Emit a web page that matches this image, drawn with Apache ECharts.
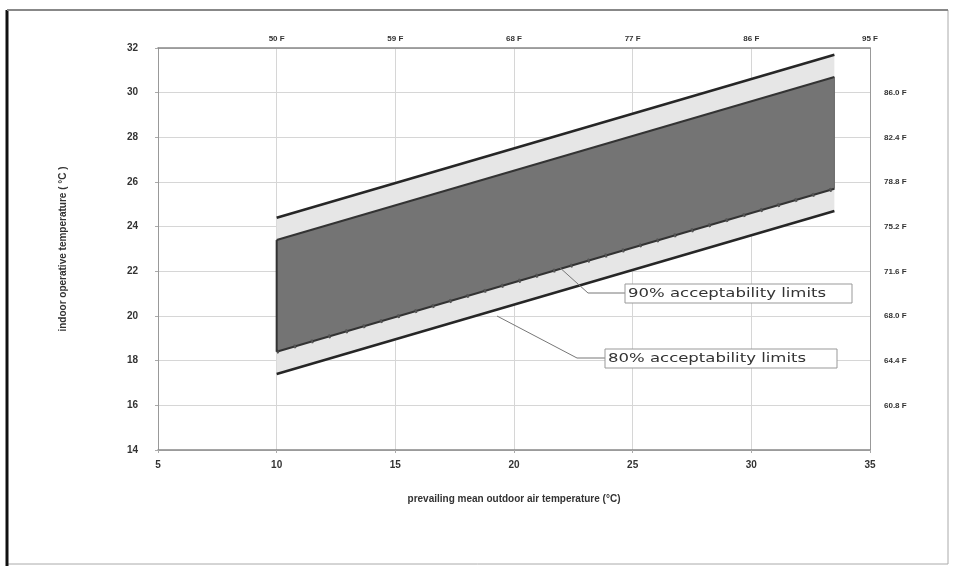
<!DOCTYPE html>
<html><head><meta charset="utf-8">
<script src="https://cdn.jsdelivr.net/npm/echarts@6/dist/echarts.min.js"></script>
<style>html,body{margin:0;padding:0;background:#fff}#c{width:953px;height:566px}</style>
</head><body><div id="c"></div>
<script>
// prevailing mean outdoor air temperature (°C) at the ends of the limit lines
const outdoorT = [10, 33.5];
// indoor operative temperature limits (°C)
const lower80 = [17.4, 24.7];
const lower90 = [18.4, 25.7];
const upper90 = [23.4, 30.7];
const upper80 = [24.4, 31.7];
// axis tick labels
const xTicks = [5, 10, 15, 20, 25, 30, 35];
const topLabels = ['', '50 F', '59 F', '68 F', '77 F', '86 F', '95 F'];
const yTicks = [14, 16, 18, 20, 22, 24, 26, 28, 30, 32];
const rightLabels = ['', '60.8 F', '64.4 F', '68.0 F', '71.6 F', '75.2 F', '78.8 F', '82.4 F', '86.0 F', ''];
const label90 = '90% acceptability limits';
const label80 = '80% acceptability limits';

const chart = echarts.init(document.getElementById('c'), null, {renderer: 'canvas'});
const FONT = 'Liberation Sans';
const tickLbl = {color: '#333', fontSize: 10, fontWeight: 'bold', fontFamily: FONT};

function band(lo, hi, color) {
  return {
    type: 'custom', coordinateSystem: 'cartesian2d', clip: true, silent: true,
    data: outdoorT.map((x, i) => [x, lo[i], hi[i]]),
    encode: {x: 0, y: [1, 2]},
    renderItem: function (params, api) {
      if (params.dataIndex !== 0) return null;
      const pts = [];
      outdoorT.forEach((x, i) => pts.push(api.coord([x, lo[i]])));
      for (let i = outdoorT.length - 1; i >= 0; i--) pts.push(api.coord([outdoorT[i], hi[i]]));
      return {type: 'polygon', shape: {points: pts}, style: {fill: color}};
    }
  };
}
function line(vals, color, width, type) {
  return {
    type: 'line', symbol: 'none', silent: true, z: 5,
    data: outdoorT.map((x, i) => [x, vals[i]]),
    lineStyle: {color: color, width: width, type: type || 'solid'}
  };
}
function edge(x, lo, hi, color, width) {
  return {
    type: 'line', symbol: 'none', silent: true, z: 5,
    data: [[x, lo], [x, hi]], lineStyle: {color: color, width: width}
  };
}

const option = {
  backgroundColor: '#fff',
  animation: false,
  grid: {left: 158, right: 83, top: 48, bottom: 116, show: false},
  xAxis: [{
    type: 'value', min: 5, max: 35, interval: 5, position: 'bottom',
    name: 'prevailing mean outdoor air temperature (°C)', nameLocation: 'middle', nameGap: 44,
    nameTextStyle: {color: '#333', fontSize: 10, fontWeight: 'bold', fontFamily: FONT},
    axisLine: {lineStyle: {color: '#888', width: 1.5}},
    axisTick: {show: true, length: 3, lineStyle: {color: '#aaa'}},
    axisLabel: Object.assign({margin: 10}, tickLbl),
    splitLine: {show: true, lineStyle: {color: '#d6d6d6', width: 1}}
  }, {
    type: 'value', min: 5, max: 35, interval: 5, position: 'top',
    axisLine: {onZero: false, lineStyle: {color: '#888', width: 1.5}},
    axisTick: {show: false},
    axisLabel: Object.assign({margin: 5,
      formatter: v => topLabels[xTicks.indexOf(v)] || ''}, tickLbl, {fontSize: 8}),
    splitLine: {show: false}
  }],
  yAxis: [{
    type: 'value', min: 14, max: 32, interval: 2, position: 'left',
    name: 'indoor operative temperature ( °C )', nameLocation: 'middle', nameGap: 90, nameRotate: 90,
    nameTextStyle: {color: '#333', fontSize: 10, fontWeight: 'bold', fontFamily: FONT},
    axisLine: {show: true, lineStyle: {color: '#999', width: 1}},
    axisTick: {show: true, length: 3, lineStyle: {color: '#aaa'}},
    axisLabel: Object.assign({margin: 20}, tickLbl),
    splitLine: {show: true, lineStyle: {color: '#d6d6d6', width: 1}}
  }, {
    type: 'value', min: 14, max: 32, interval: 2, position: 'right',
    axisLine: {show: true, onZero: false, lineStyle: {color: '#999', width: 1}},
    axisTick: {show: false},
    axisLabel: Object.assign({margin: 14, formatter: v => rightLabels[yTicks.indexOf(v)] || ''}, tickLbl, {fontSize: 8}),
    splitLine: {show: false}
  }],
  series: [
    band(lower80, upper80, '#e6e6e6'),
    band(lower90, upper90, '#747474'),
    line(upper80, '#262626', 2.5),
    line(lower80, '#262626', 2.5),
    line(upper90, '#333', 2),
    line(lower90, '#333', 2),
    line(lower90, '#555', 4, [2, 16]),
    edge(outdoorT[0], lower90[0], upper90[0], '#333', 2),
    edge(outdoorT[1], lower90[1], upper90[1], '#666', 1)
  ],
  graphic: [
    {type: 'rect', shape: {x: 7, y: 10, width: 941, height: 554}, style: {fill: 'none', stroke: '#aaa', lineWidth: 1}, z: 100},
    {type: 'line', shape: {x1: 7, y1: 10, x2: 7, y2: 566}, style: {stroke: '#111', lineWidth: 3}, z: 100},
    {type: 'line', shape: {x1: 7, y1: 10, x2: 948, y2: 10}, style: {stroke: '#888', lineWidth: 2}, z: 100},
    // 90% label and leader
    {type: 'polyline', shape: {points: [[558, 266], [588, 293], [625, 293]]}, style: {stroke: '#777', lineWidth: 1, fill: 'none'}, z: 50},
    {type: 'rect', shape: {x: 625, y: 284, width: 227, height: 19}, style: {fill: '#fff', stroke: '#999', lineWidth: 1}, z: 50},
    {type: 'text', x: 628, y: 294, scaleX: 1.27, style: {x: 0, y: 0, text: label90, fill: '#333', font: '13px "DejaVu Sans"', textVerticalAlign: 'middle'}, z: 51},
    // 80% label and leader
    {type: 'polyline', shape: {points: [[497, 316], [577, 358], [605, 358]]}, style: {stroke: '#777', lineWidth: 1, fill: 'none'}, z: 50},
    {type: 'rect', shape: {x: 605, y: 349, width: 232, height: 19}, style: {fill: '#fff', stroke: '#999', lineWidth: 1}, z: 50},
    {type: 'text', x: 608, y: 359, scaleX: 1.27, style: {x: 0, y: 0, text: label80, fill: '#333', font: '13px "DejaVu Sans"', textVerticalAlign: 'middle'}, z: 51}
  ]
};
chart.setOption(option);
</script></body></html>
